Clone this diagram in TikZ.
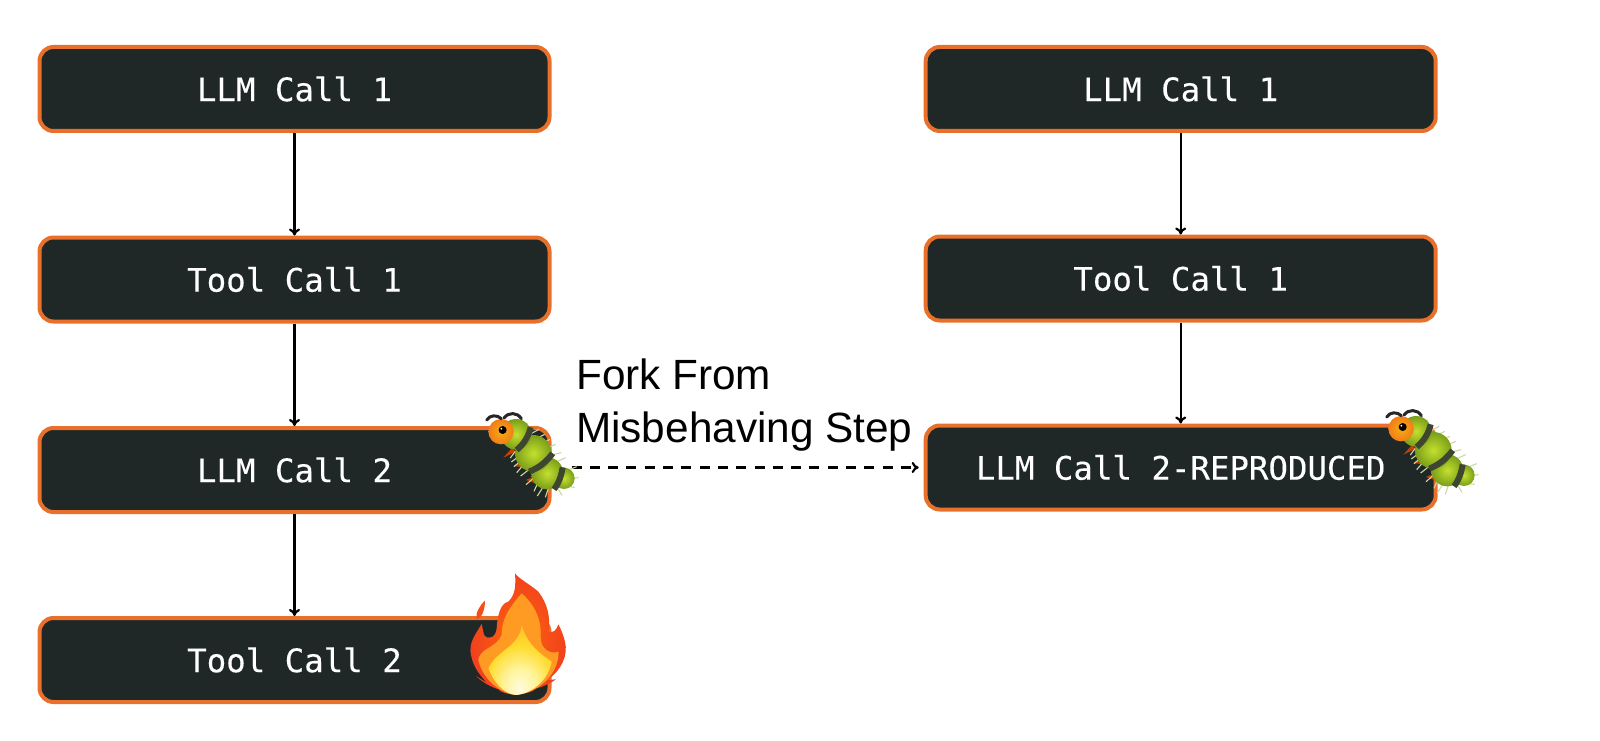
\documentclass[tikz,border=0pt]{standalone}
\usepackage{fontspec}
\setmainfont{Liberation Sans}
\setmonofont{DejaVu Sans Mono}[FakeBold=0.25]
\usetikzlibrary{arrows.meta,calc,positioning}
\definecolor{boxfill}{HTML}{1F2827}
\definecolor{boxedge}{HTML}{E8702A}
\definecolor{bugskin}{HTML}{C4E02E}
\definecolor{bugdark}{HTML}{7A9E1A}
\definecolor{bugring}{HTML}{3E4530}
\definecolor{bughead}{HTML}{F08A1C}
\definecolor{bugpale}{HTML}{CBD8A4}
\definecolor{flameout}{HTML}{F2401E}
\definecolor{flamemid}{HTML}{FF9A22}
\pgfdeclareradialshading{flameglow}{\pgfpoint{0bp}{-21bp}}{%
  rgb(0bp)=(1,0.98,0.88);rgb(12bp)=(1,0.96,0.62);rgb(26bp)=(1,0.86,0.18);
  rgb(44bp)=(1,0.70,0.14);rgb(62bp)=(1,0.60,0.13);rgb(100bp)=(1,0.60,0.13)}
\tikzset{
  callbox/.style={draw=boxedge,fill=boxfill,line width=4pt,rounded corners=14pt,
    minimum width=510pt,minimum height=84pt,inner sep=0pt,text=white,
    font=\fontsize{32.4}{36}\selectfont\ttfamily},
  flow/.style={-{To[length=7pt,width=11pt]},line width=2.2pt,black},
  bugleg/.style={fill=orange!60!red!80!black},
  bugband/.style={line width=6pt,draw=bugring},
  bugspike/.style={line width=1.1pt,bugpale},
  bugbrow/.style={line width=3pt,line cap=round,black!85},
}
% caterpillar, drawn in the pixels of its own crop
\newcommand{\bugicon}[2]{%
\begin{scope}[shift={(#1,#2)},x=0.3333pt,y=-0.3333pt]
  % legs
  \fill[bugleg] (190,203) -- (215,175) -- (228,185) -- cycle;
  \fill[bugleg] (220,228) -- (245,215) -- (250,232) -- cycle;
  \fill[bugleg] (258,270) -- (285,258) -- (285,280) -- cycle;
  % spikes
  \foreach \a/\b/\c/\d in {250/120/262/98,275/130/297/118,290/145/314/133,305/160/330/148,
    320/175/347/163,335/195/364/188,350/215/377/203,385/240/410/230,395/265/416/263,
    225/185/211/204,235/200/214/216,245/210/222/230,250/225/230/248,265/240/242/258,
    280/265/258/284,295/275/282/304,310/290/292/318,325/295/316/322,355/298/366/316,385/290/404/292}
    \draw[bugspike] (\a,\b) -- (\c,\d);
  % body
  \foreach \x/\y/\r in {372/265/32,322/250/48,280/190/55,228/133/46}
    \shade[inner color=bugskin,outer color=bugdark] (\x,\y) circle (\r pt*0.3333);
  \draw[bugband] (272,112) .. controls (266,138) and (252,162) .. (230,180);
  \draw[bugband] (338,190) .. controls (322,212) and (300,232) .. (268,245);
  \draw[bugband] (368,232) .. controls (365,252) and (358,278) .. (342,298);
  % head
  \shade[inner color=bughead!70!yellow,outer color=bughead!90!red] (183,125) circle (38pt*0.3333);
  \fill[black] (188,120) circle (12pt*0.3333);
  \fill[white] (184,116) circle (3pt*0.3333);
  % brows
  \draw[bugbrow] (140,90) .. controls (150,74) and (172,74) .. (184,86);
  \draw[bugbrow] (192,84) .. controls (205,66) and (232,66) .. (244,86);
\end{scope}}
\begin{document}
\begin{tikzpicture}[x=1pt,y=-1pt]
\useasboundingbox (0,0) rectangle (1600,741);

% Left run
\node[callbox] (llmA) at (294.5,89) {LLM Call 1};
\node[callbox] (toolA) at (294.5,279.5) {Tool Call 1};
\node[callbox] (llmB) at (294.5,470) {LLM Call 2};
\node[callbox] (toolB) at (294.5,660) {Tool Call 2};
\draw[flow] (llmA) -- (toolA);
\draw[flow] (toolA) -- (llmB);
\draw[flow] (llmB) -- (toolB);

% Right run
\node[callbox] (llmC) at (1180.7,89) {LLM Call 1};
\node[callbox] (toolC) at (1180.7,278.5) {Tool Call 1};
\node[callbox] (llmD) at (1180.7,467.5) {LLM Call 2-REPRODUCED};
\draw[flow] (llmC) -- (toolC);
\draw[flow] (toolC) -- (llmD);

% Fork
\draw[flow,dash pattern=on 10pt off 8.3pt,shorten <=20pt,shorten >=5pt] (llmB.east |- llmD.west) -- (llmD.west);
\node[align=left,anchor=south west,inner sep=0pt,font=\fontsize{42.3}{53}\selectfont] (forkText) at (576,451)
  {Fork From\\Misbehaving Step};

% Bugs
\bugicon{440}{390}
\bugicon{1340}{387}

% Flame
\begin{scope}[shift={(440,560)},x=0.3333pt,y=-0.3333pt]
  \fill[flameout!80!orange] (135,122) .. controls (120,135) and (105,160) .. (110,178)
    .. controls (125,175) and (135,150) .. cycle;
  \shade[inner color=orange!60!flameout,outer color=flameout] (225,40) .. controls (228,80) and (225,105) .. (205,125)
    .. controls (180,130) and (172,170) .. (170,205) .. controls (168,232) and (145,242) .. (132,225)
    -- (125,192) .. controls (105,225) and (85,250) .. (93,285) .. controls (100,325) and (125,350) .. (140,368)
    -- (108,348) .. controls (125,365) and (150,380) .. (175,388) .. controls (190,408) and (260,410) .. (290,385)
    .. controls (310,380) and (335,368) .. (348,358) -- (322,360)
    .. controls (365,330) and (385,285) .. (375,245) .. controls (370,225) and (362,205) .. (355,193)
    .. controls (350,210) and (340,220) .. (326,215) .. controls (332,170) and (322,130) .. (295,95)
    .. controls (268,72) and (235,55) .. cycle;
  \fill[flamemid] (245,100) .. controls (215,135) and (185,170) .. (185,225)
    .. controls (172,262) and (118,265) .. (115,300) .. controls (125,345) and (165,395) .. (225,405)
    .. controls (290,400) and (355,350) .. (356,275) .. controls (330,285) and (300,265) .. (302,230)
    .. controls (305,180) and (285,135) .. cycle;
  \shade[shading=flameglow] (245,195) .. controls (240,260) and (170,270) .. (145,325) .. controls (165,375) and (195,402) .. (228,405)
    .. controls (270,402) and (325,365) .. (335,305) .. controls (300,280) and (262,255) .. cycle;
\end{scope}
\end{tikzpicture}
\end{document}
